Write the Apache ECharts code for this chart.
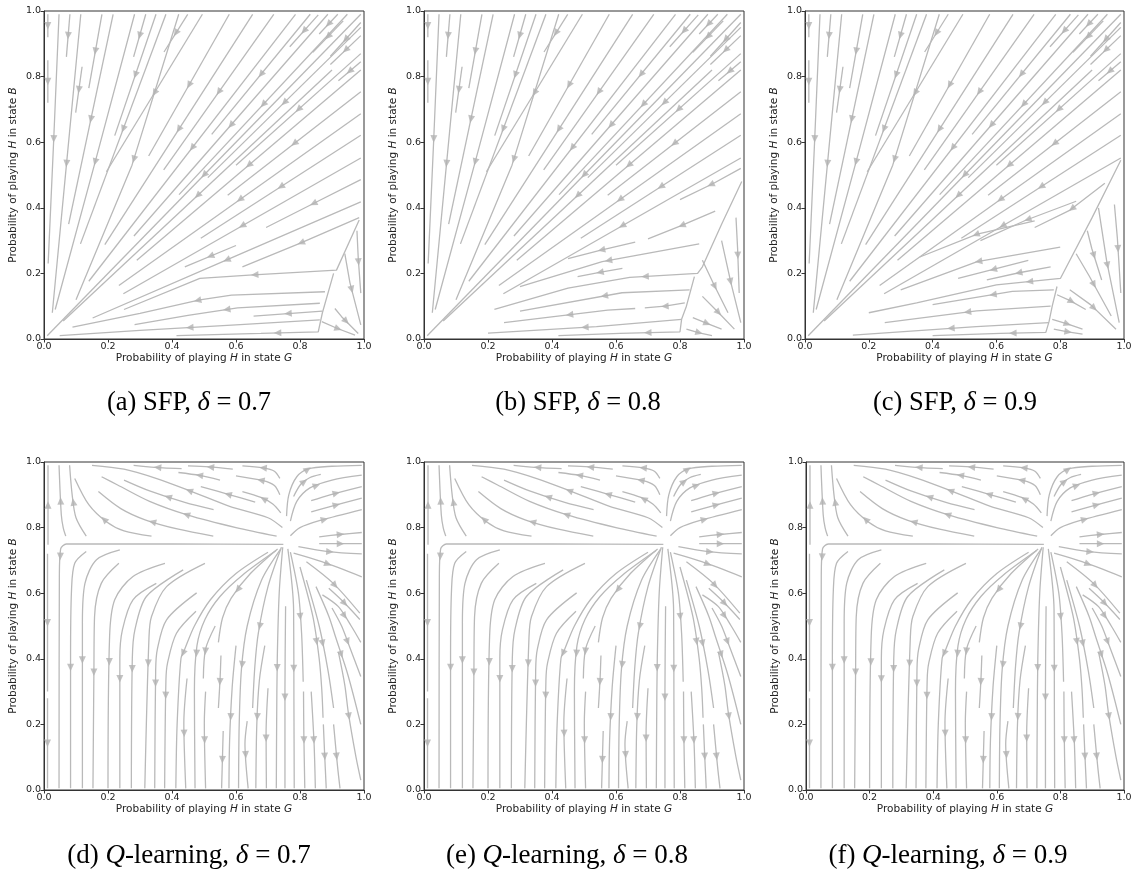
<!DOCTYPE html>
<html><head><meta charset="utf-8">
<script src="https://cdn.jsdelivr.net/npm/echarts@6/dist/echarts.min.js"></script>
<style>html,body{margin:0;padding:0;background:#fff}#c{width:1136px;height:872px}</style>
</head><body><div id="c"></div>
<script>
// ---------- data ----------
const tickLabels = ['0.0','0.2','0.4','0.6','0.8','1.0'];
const xTitle = ['Probability of playing ', 'H', ' in state ', 'G'];
const yTitle = ['Probability of playing ', 'H', ' in state ', 'B'];
const captionLetters = ['(a)','(b)','(c)','(d)','(e)','(f)'];
const captionMethods = ['SFP','SFP','SFP','Q-learning','Q-learning','Q-learning'];
const captionDeltas = ['0.7','0.8','0.9','0.7','0.8','0.9'];

// SFP: streamlines (points in flow order) common to the three SFP panels
const sfpFan = [
 [[0.012,0.99],[0.012,0.92]],
 [[0.012,0.85],[0.012,0.72]],
 [[0.047,0.99],[0.03,0.6],[0.013,0.23]],
 [[0.081,0.99],[0.07,0.86]],
 [[0.115,0.99],[0.07,0.53],[0.026,0.08]],
 [[0.119,0.83],[0.099,0.69]],
 [[0.181,0.99],[0.14,0.765]],
 [[0.216,0.99],[0.077,0.35]],
 [[0.283,0.99],[0.16,0.54],[0.035,0.09]],
 [[0.318,0.99],[0.28,0.86]],
 [[0.35,0.99],[0.221,0.62]],
 [[0.381,0.99],[0.114,0.29]],
 [[0.421,0.99],[0.275,0.53],[0.1,0.12]],
 [[0.449,0.99],[0.375,0.875]],
 [[0.495,0.99],[0.195,0.51]],
 [[0.579,0.99],[0.327,0.558]],
 [[0.652,0.99],[0.19,0.288]],
 [[0.718,0.99],[0.374,0.516]],
 [[0.786,0.99],[0.14,0.176]],
 [[0.832,0.99],[0.524,0.624]],
 [[0.857,0.988],[0.768,0.891]],
 [[0.887,0.99],[0.281,0.314]],
 [[0.918,0.99],[0.86,0.93]],
 [[0.948,0.99],[0.422,0.44]],
 [[0.935,0.97],[0.84,0.874]],
 [[0.99,0.99],[0.01,0.01]],
 [[0.99,0.965],[0.895,0.862]],
 [[0.99,0.95],[0.512,0.492]],
 [[0.99,0.925],[0.895,0.837]],
 [[0.9,0.82],[0.06,0.055]],
 [[0.99,0.87],[0.6,0.53]],
 [[0.99,0.845],[0.92,0.787]],
 [[0.99,0.82],[0.29,0.24]],
 [[0.99,0.754],[0.574,0.438]],
 [[0.99,0.687],[0.234,0.163]],
 [[0.99,0.621],[0.49,0.307]],
 [[0.99,0.552],[0.248,0.138]]
];
// SFP delta = 0.7: lower-right part
const sfpLowA = [
 [[0.99,0.486],[0.842,0.413],[0.694,0.34]],
 [[0.99,0.418],[0.571,0.241],[0.152,0.064]],
 [[0.6,0.285],[0.44,0.22]],
 [[0.985,0.37],[0.803,0.293],[0.62,0.22]],
 [[0.985,0.363],[0.914,0.21],[0.641,0.195],[0.487,0.185],[0.25,0.09]],
 [[0.878,0.144],[0.586,0.134],[0.487,0.119],[0.3,0.078],[0.089,0.036]],
 [[0.862,0.109],[0.605,0.095],[0.45,0.072],[0.283,0.044]],
 [[0.87,0.085],[0.655,0.07]],
 [[0.862,0.058],[0.6,0.043],[0.3,0.026],[0.049,0.01]],
 [[0.905,0.2],[0.87,0.08],[0.857,0.022],[0.678,0.017],[0.414,0.01]],
 [[0.978,0.33],[0.982,0.246],[0.99,0.14]],
 [[0.94,0.26],[0.956,0.172],[0.99,0.043]],
 [[0.909,0.093],[0.93,0.068],[0.982,0.017]],
 [[0.868,0.053],[0.917,0.032],[0.972,0.012]]
];
// SFP delta = 0.8: lower-right part
const sfpLowB = [
 [[0.99,0.52],[0.904,0.474],[0.8,0.425]],
 [[0.993,0.48],[0.93,0.35],[0.87,0.22],[0.855,0.2],[0.643,0.188],[0.45,0.155],[0.22,0.09]],
 [[0.91,0.39],[0.8,0.344],[0.7,0.305]],
 [[0.66,0.295],[0.553,0.271],[0.45,0.245]],
 [[0.86,0.29],[0.557,0.236],[0.3,0.16]],
 [[0.62,0.215],[0.553,0.204],[0.48,0.19]],
 [[0.83,0.15],[0.619,0.141],[0.3,0.085]],
 [[0.815,0.11],[0.753,0.1],[0.69,0.095]],
 [[0.66,0.093],[0.574,0.088],[0.25,0.05]],
 [[0.805,0.06],[0.539,0.038],[0.2,0.018]],
 [[0.845,0.19],[0.82,0.1],[0.805,0.06],[0.8,0.022],[0.612,0.017],[0.42,0.01]],
 [[0.975,0.37],[0.98,0.276],[0.985,0.14]],
 [[0.93,0.3],[0.959,0.172],[0.99,0.05]],
 [[0.87,0.24],[0.907,0.164],[0.95,0.08]],
 [[0.87,0.13],[0.92,0.081],[0.97,0.03]],
 [[0.84,0.065],[0.888,0.046],[0.93,0.03]],
 [[0.82,0.03],[0.86,0.019],[0.9,0.01]]
];
// SFP delta = 0.9: lower-right part
const sfpLowC = [
 [[0.99,0.545],[0.9,0.37],[0.801,0.185],[0.6,0.165],[0.35,0.11],[0.2,0.08]],
 [[0.94,0.475],[0.831,0.393],[0.72,0.34]],
 [[0.85,0.42],[0.692,0.362],[0.55,0.3]],
 [[0.72,0.36],[0.54,0.32],[0.36,0.25]],
 [[0.8,0.28],[0.54,0.236],[0.3,0.15]],
 [[0.7,0.24],[0.59,0.212],[0.48,0.185]],
 [[0.77,0.22],[0.671,0.202],[0.57,0.18]],
 [[0.79,0.16],[0.775,0.1],[0.765,0.053],[0.755,0.02],[0.613,0.017],[0.4,0.01]],
 [[0.78,0.15],[0.65,0.145],[0.4,0.105]],
 [[0.77,0.1],[0.538,0.086],[0.25,0.05]],
 [[0.765,0.05],[0.537,0.038],[0.15,0.012]],
 [[0.97,0.41],[0.979,0.31],[0.99,0.14]],
 [[0.92,0.4],[0.946,0.236],[0.985,0.05]],
 [[0.885,0.33],[0.899,0.276],[0.93,0.18]],
 [[0.85,0.26],[0.891,0.192],[0.96,0.07]],
 [[0.83,0.15],[0.896,0.104],[0.975,0.03]],
 [[0.79,0.135],[0.831,0.117],[0.88,0.09]],
 [[0.775,0.06],[0.822,0.046],[0.87,0.03]],
 [[0.78,0.03],[0.824,0.022],[0.87,0.015]]
];
// Q-learning: streamlines (points in flow order)
const qLines = [
 [[0.0125,0.748],[0.0125,0.99]],
 [[0.068,0.774],[0.06,0.8],[0.054,0.84],[0.047,0.99]],
 [[0.132,0.774],[0.1,0.83],[0.088,0.9],[0.08,0.99]],
 [[0.336,0.774],[0.25,0.79],[0.195,0.818],[0.14,0.87],[0.096,0.95]],
 [[0.529,0.774],[0.42,0.795],[0.318,0.823],[0.24,0.858],[0.17,0.91]],
 [[0.727,0.774],[0.6,0.8],[0.45,0.838],[0.33,0.88],[0.23,0.93],[0.18,0.955]],
 [[0.53,0.855],[0.44,0.877],[0.33,0.912],[0.25,0.945]],
 [[0.745,0.8],[0.7,0.83],[0.58,0.865],[0.464,0.909],[0.35,0.95],[0.25,0.978],[0.15,0.99]],
 [[0.66,0.878],[0.581,0.9],[0.49,0.925]],
 [[0.74,0.845],[0.715,0.872],[0.678,0.892],[0.62,0.91]],
 [[0.737,0.9],[0.72,0.928],[0.685,0.943],[0.6,0.958]],
 [[0.55,0.945],[0.487,0.959],[0.42,0.968]],
 [[0.737,0.95],[0.72,0.972],[0.685,0.982],[0.62,0.988]],
 [[0.59,0.978],[0.516,0.985],[0.45,0.988]],
 [[0.43,0.98],[0.372,0.982],[0.28,0.99]],
 [[0.758,0.835],[0.765,0.9],[0.79,0.955],[0.826,0.979],[0.9,0.987],[0.993,0.99]],
 [[0.78,0.895],[0.803,0.933],[0.83,0.952],[0.865,0.962]],
 [[0.77,0.82],[0.79,0.88],[0.831,0.921],[0.9,0.945],[0.993,0.96]],
 [[0.835,0.882],[0.894,0.9],[0.993,0.925]],
 [[0.835,0.848],[0.894,0.864],[0.993,0.89]],
 [[0.77,0.775],[0.8,0.8],[0.864,0.822],[0.993,0.855]],
 [[0.86,0.772],[0.925,0.779],[0.993,0.785]],
 [[0.86,0.751],[0.925,0.751],[0.993,0.751]],
 [[0.795,0.742],[0.888,0.727],[0.993,0.72]],
 [[0.78,0.722],[0.868,0.696],[0.993,0.65]],
 [[0.748,0.749],[0.4,0.75],[0.07,0.75],[0.052,0.735],[0.048,0.65],[0.047,0.005]],
 [[0.011,0.72],[0.011,0.3]],
 [[0.011,0.28],[0.011,0.005]],
 [[0.132,0.727],[0.096,0.691],[0.086,0.61],[0.083,0.4],[0.083,0.005]],
 [[0.237,0.732],[0.164,0.702],[0.128,0.63],[0.12,0.509],[0.12,0.005]],
 [[0.234,0.691],[0.179,0.63],[0.158,0.529],[0.156,0.366],[0.153,0.005]],
 [[0.378,0.691],[0.278,0.651],[0.221,0.58],[0.205,0.468],[0.2,0.005]],
 [[0.351,0.63],[0.278,0.58],[0.245,0.488],[0.237,0.402],[0.237,0.005]],
 [[0.435,0.671],[0.32,0.59],[0.284,0.488],[0.276,0.402],[0.273,0.005]],
 [[0.503,0.691],[0.383,0.62],[0.336,0.529],[0.328,0.463],[0.315,0.005]],
 [[0.477,0.601],[0.383,0.519],[0.354,0.428],[0.349,0.367],[0.346,0.005]],
 [[0.475,0.545],[0.414,0.478],[0.386,0.387],[0.381,0.334],[0.377,0.005]],
 [[0.70,0.725],[0.6,0.66],[0.52,0.58],[0.47,0.5],[0.44,0.43],[0.428,0.401],[0.416,0.2],[0.412,0.005]],
 [[0.447,0.34],[0.437,0.205],[0.443,0.005]],
 [[0.725,0.73],[0.62,0.655],[0.55,0.59],[0.503,0.52],[0.478,0.44],[0.47,0.3],[0.472,0.005]],
 [[0.535,0.5],[0.505,0.43],[0.498,0.34]],
 [[0.505,0.3],[0.501,0.205],[0.505,0.005]],
 [[0.73,0.735],[0.645,0.66],[0.585,0.585],[0.558,0.525],[0.545,0.45]],
 [[0.553,0.41],[0.55,0.334],[0.545,0.25]],
 [[0.56,0.18],[0.558,0.109],[0.555,0.005]],
 [[0.6,0.44],[0.588,0.312],[0.58,0.15],[0.578,0.005]],
 [[0.74,0.735],[0.68,0.64],[0.635,0.5],[0.617,0.368],[0.61,0.2],[0.608,0.005]],
 [[0.635,0.21],[0.628,0.141],[0.638,0.005]],
 [[0.742,0.74],[0.7,0.62],[0.67,0.48],[0.659,0.378],[0.652,0.25]],
 [[0.69,0.44],[0.673,0.334],[0.665,0.2],[0.662,0.005]],
 [[0.7,0.31],[0.694,0.172],[0.695,0.005]],
 [[0.746,0.74],[0.735,0.6],[0.729,0.401],[0.727,0.2],[0.726,0.005]],
 [[0.755,0.56],[0.753,0.304],[0.753,0.005]],
 [[0.762,0.735],[0.78,0.55],[0.781,0.27],[0.782,0.005]],
 [[0.77,0.725],[0.795,0.6],[0.805,0.477],[0.81,0.33]],
 [[0.811,0.3],[0.812,0.172],[0.815,0.005]],
 [[0.82,0.696],[0.904,0.63],[0.987,0.539]],
 [[0.89,0.615],[0.933,0.576],[0.987,0.52]],
 [[0.87,0.595],[0.92,0.559],[0.96,0.5],[0.99,0.45]],
 [[0.9,0.555],[0.93,0.5],[0.954,0.439],[0.99,0.346]],
 [[0.85,0.62],[0.89,0.53],[0.912,0.464],[0.95,0.35],[0.99,0.2]],
 [[0.82,0.64],[0.86,0.5],[0.888,0.362],[0.905,0.25]],
 [[0.8,0.68],[0.84,0.53],[0.86,0.4],[0.868,0.307],[0.872,0.22]],
 [[0.873,0.2],[0.877,0.109],[0.882,0.005]],
 [[0.835,0.3],[0.844,0.141],[0.848,0.005]],
 [[0.92,0.42],[0.94,0.32],[0.951,0.236],[0.975,0.1],[0.99,0.03]],
 [[0.905,0.2],[0.917,0.075],[0.925,0.005]]
];

// ---------- layout / style ----------
const LINE_COLOR = '#b9b9b9';
const PH = 328;
const panels = [
  {left:44,  top:11,  w:320, lines: sfpFan.concat(sfpLowA), smooth:false, cx:189, cy:403},
  {left:424, top:11,  w:320, lines: sfpFan.concat(sfpLowB), smooth:false, cx:578, cy:403},
  {left:805, top:11,  w:319, lines: sfpFan.concat(sfpLowC), smooth:false, cx:955, cy:403},
  {left:44,  top:462, w:320, lines: qLines, smooth:0.3, cx:189, cy:856},
  {left:424, top:462, w:320, lines: qLines, smooth:0.3, cx:567, cy:856},
  {left:806, top:462, w:318, lines: qLines, smooth:0.3, cx:948, cy:856}
];

function arrowOf(pts, w, h) {
  let seg = [], total = 0;
  for (let i = 1; i < pts.length; i++) {
    const dx = (pts[i][0]-pts[i-1][0])*w, dy = (pts[i][1]-pts[i-1][1])*h;
    const l = Math.hypot(dx, dy); seg.push(l); total += l;
  }
  let half = total/2, acc = 0;
  for (let i = 0; i < seg.length; i++) {
    if (acc + seg[i] >= half || i === seg.length-1) {
      const t = seg[i] ? (half-acc)/seg[i] : 0;
      const a = pts[i], b = pts[i+1];
      const x = a[0] + (b[0]-a[0])*t, y = a[1] + (b[1]-a[1])*t;
      const ang = Math.atan2((b[1]-a[1])*h, (b[0]-a[0])*w)*180/Math.PI;
      return [x, y, ang-90];
    }
    acc += seg[i];
  }
}

const axisCommon = {
  type:'value', min:0, max:1, interval:0.2,
  splitLine:{show:false},
  axisLine:{show:true, lineStyle:{color:'#333', width:1}},
  axisTick:{show:true, length:3.5, lineStyle:{color:'#333', width:1}},
  axisLabel:{fontSize:9.5, fontFamily:'DejaVu Sans', color:'#222', margin:3,
             formatter: v => tickLabels[Math.round(v*5)]},
  nameLocation:'middle'
};
function richTitle(parts){ return '{n|'+parts[0]+'}{i|'+parts[1]+'}{n|'+parts[2]+'}{i|'+parts[3]+'}'; }
const nameRich = {
  n:{fontSize:10.5, fontFamily:'DejaVu Sans', color:'#222'},
  i:{fontSize:10.5, fontFamily:'DejaVu Sans', fontStyle:'italic', color:'#222'}
};

const grids = [], xAxes = [], yAxes = [], series = [], graphics = [];
panels.forEach((p, k) => {
  grids.push({left:p.left, top:p.top, width:p.w, height:PH, show:true, borderColor:'#333', borderWidth:1, containLabel:false});
  xAxes.push(Object.assign({}, axisCommon, {gridIndex:k, name: richTitle(xTitle), nameGap:12,
      nameTextStyle:{rich:nameRich}}));
  yAxes.push(Object.assign({}, axisCommon, {gridIndex:k, name: richTitle(yTitle), nameGap:25,
      nameTextStyle:{rich:nameRich}}));
  const arrows = [];
  p.lines.forEach(pts => {
    series.push({type:'line', xAxisIndex:k, yAxisIndex:k, data:pts, showSymbol:false, symbol:'none',
      smooth:p.smooth, silent:true, animation:false, z:2,
      lineStyle:{color:LINE_COLOR, width:1.3}});
    arrows.push(arrowOf(pts, p.w, PH));
  });
  series.push({type:'scatter', xAxisIndex:k, yAxisIndex:k, data:arrows, symbol:'triangle',
    symbolSize:[7,7.5], symbolRotate:(v)=>v[2], silent:true, animation:false, z:3,
    itemStyle:{color:'#b3b3b3'}});
  const isQ = captionMethods[k] !== 'SFP';
  const txt = isQ
    ? '{n|'+captionLetters[k]+' }{i|Q}{n|-learning, }{i|δ}{n| = '+captionDeltas[k]+'}'
    : '{n|'+captionLetters[k]+' '+captionMethods[k]+', }{i|δ}{n| = '+captionDeltas[k]+'}';
  const fs = isQ ? 27 : 26.5;
  graphics.push({type:'text', x:p.cx, y:p.cy, style:{text:txt, align:'center', verticalAlign:'middle',
    rich:{n:{fontSize:fs, fontFamily:'Liberation Serif', fill:'#000'},
          i:{fontSize:fs, fontFamily:'Liberation Serif', fontStyle:'italic', fill:'#000'}}}});
});

const chart = echarts.init(document.getElementById('c'), null, {renderer:'canvas'});
chart.setOption({animation:false, backgroundColor:'#fff', grid:grids, xAxis:xAxes, yAxis:yAxes, series:series, graphic:graphics});
</script></body></html>
